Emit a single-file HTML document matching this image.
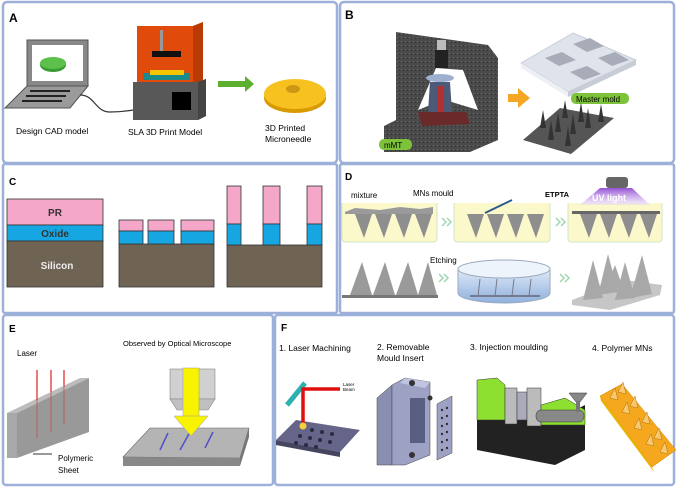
<!DOCTYPE html>
<html><head><meta charset="utf-8"><style>
html,body{margin:0;padding:0;background:#fff;}
svg{display:block;}
text{font-family:"Liberation Sans",sans-serif;}
</style></head><body>
<svg width="678" height="488" viewBox="0 0 678 488" xmlns="http://www.w3.org/2000/svg">
<defs>
<linearGradient id="uv" x1="0" y1="0" x2="0" y2="1"><stop offset="0" stop-color="#8a3fd0" stop-opacity="0.9"/><stop offset="1" stop-color="#e8d8f8" stop-opacity="0.5"/></linearGradient>
<linearGradient id="dish" x1="0" y1="0" x2="0" y2="1"><stop offset="0" stop-color="#dfeaf8"/><stop offset="1" stop-color="#8fb0dc"/></linearGradient>
<pattern id="gran" width="4" height="4" patternUnits="userSpaceOnUse"><rect width="4" height="4" fill="#4a4a4a"/><rect x="1" y="1" width="1" height="1" fill="#6a6a6a"/><rect x="3" y="2" width="1" height="1" fill="#333"/></pattern>
</defs>
<rect width="678" height="488" fill="#fff"/>
<!-- panel borders -->
<g fill="none" stroke="#9db0da" stroke-width="2.5">
<rect x="3" y="2" width="334" height="161" rx="4"/>
<rect x="340" y="2" width="334" height="161" rx="4"/>
<rect x="3" y="164" width="334" height="149" rx="2"/>
<rect x="340" y="164" width="334" height="149" rx="2"/>
<rect x="3" y="315" width="270" height="170" rx="3"/>
<rect x="275" y="315" width="399" height="170" rx="3"/>
</g>

<!-- PANEL A -->
<text x="9" y="22" font-size="12" font-weight="bold">A</text>
<rect x="27" y="40" width="61" height="46" fill="#888" stroke="#555" stroke-width="1"/>
<rect x="32" y="45" width="51" height="36" fill="#fff"/>
<ellipse cx="53" cy="65" rx="13" ry="7" fill="#3a9c33"/><ellipse cx="53" cy="63" rx="13" ry="6" fill="#5cc04a"/>
<polygon points="27,86 88,86 70,108 5,108" fill="#9a9a9a" stroke="#555"/>
<g fill="#222">
<rect x="30" y="90" width="40" height="2"/><rect x="26" y="95" width="40" height="2"/><rect x="22" y="100" width="40" height="2"/>
</g>
<path d="M80,95 C95,95 95,112 110,112 S130,110 135,110" stroke="#333" stroke-width="1.2" fill="none"/>
<polygon points="137,26 193,26 203,22 203,82 137,82" fill="#e04a0a"/>
<polygon points="193,26 203,22 203,82 193,82" fill="#b83a05"/>
<rect x="160" y="30" width="3" height="24" fill="#999"/>
<rect x="152" y="51" width="29" height="6" fill="#111"/>
<rect x="143" y="73" width="47" height="7" fill="#1a8a8a"/>
<rect x="150" y="70" width="34" height="5" fill="#f5c400"/>
<polygon points="133,82 198,82 206,79 206,116 198,120 133,120" fill="#585858"/>
<polygon points="198,82 206,79 206,116 198,120" fill="#444"/>
<rect x="172" y="92" width="19" height="18" fill="#000"/>
<rect x="218" y="81" width="28" height="6" fill="#5cb030"/>
<polygon points="245,76 254,84 245,92" fill="#5cb030"/>
<ellipse cx="295" cy="98" rx="31" ry="15" fill="#d99a00"/>
<ellipse cx="295" cy="94" rx="31" ry="15" fill="#f7c21f"/>
<ellipse cx="293" cy="89" rx="7" ry="4" fill="#b07a10" opacity="0.6"/>
<text x="16" y="134" font-size="8.5">Design CAD model</text>
<text x="128" y="135" font-size="8.5">SLA 3D Print Model</text>
<text x="265" y="131" font-size="8.5">3D Printed</text>
<text x="265" y="142" font-size="8.5">Microneedle</text>

<!-- PANEL B -->
<text x="345" y="19" font-size="12" font-weight="bold">B</text>
<polygon points="396,32 488,45 498,58 498,140 470,152 384,152 384,126 396,120" fill="url(#gran)"/>
<polygon points="436,68 463,70 478,110 445,100 428,106 418,110" fill="#fff"/>
<rect x="437" y="40" width="9" height="10" fill="#bbb"/>
<rect x="435" y="50" width="13" height="18" fill="#222"/>
<ellipse cx="440" cy="78" rx="14" ry="4" fill="#9db0d0"/>
<polygon points="430,82 450,82 452,112 428,112" fill="#4c5a78"/>
<rect x="437" y="86" width="7" height="26" fill="#b23030"/>
<polygon points="418,112 466,112 470,124 422,126" fill="#6a2a2a"/>
<rect x="379" y="139" width="33" height="11" rx="5" fill="#7ec23a"/>
<text x="384" y="148" font-size="8">mMT</text>
<polygon points="508,94 518,94 518,88 530,98 518,108 518,102 508,102" fill="#f5a623"/>
<polygon points="521,63 573,33 636,60 568,92" fill="#dfe3ec" stroke="#c8ccd8"/>
<polygon points="521,63 568,92 568,97 521,68" fill="#eef0f6"/>
<polygon points="568,92 636,60 636,65 568,97" fill="#c8ccd6"/>
<g fill="#a8acb8">
<polygon points="573,44 590,38 604,46 587,52"/><polygon points="545,58 562,52 576,60 559,66"/><polygon points="598,58 615,52 629,60 612,66"/><polygon points="570,72 587,66 601,74 584,80"/>
</g>
<rect x="571" y="93" width="58" height="11" rx="5" fill="#7ec23a"/>
<text x="576" y="102" font-size="8">Master mold</text>
<polygon points="523,140 560,108 614,118 571,154" fill="#555"/>
<g fill="#333">
<polygon points="540,128 543,110 546,128"/><polygon points="555,132 558,112 561,132"/><polygon points="570,134 573,114 576,134"/><polygon points="585,128 588,108 591,128"/><polygon points="598,122 601,104 604,122"/><polygon points="562,118 565,100 568,118"/><polygon points="548,140 551,120 554,140"/><polygon points="578,122 581,102 584,122"/><polygon points="565,146 568,126 571,146"/>
</g>

<!-- PANEL C -->
<text x="9" y="185" font-size="10" font-weight="bold">C</text>
<g stroke="#333" stroke-width="0.8">
<rect x="7" y="199" width="96" height="26" fill="#f4a7c8"/>
<rect x="7" y="225" width="96" height="16" fill="#16a7e3"/>
<rect x="7" y="241" width="96" height="46" fill="#6f6354"/>
<rect x="119" y="244" width="95" height="43" fill="#6f6354"/>
<rect x="119" y="220" width="24" height="11" fill="#f4a7c8"/><rect x="119" y="231" width="24" height="13" fill="#16a7e3"/>
<rect x="148" y="220" width="26" height="11" fill="#f4a7c8"/><rect x="148" y="231" width="26" height="13" fill="#16a7e3"/>
<rect x="181" y="220" width="33" height="11" fill="#f4a7c8"/><rect x="181" y="231" width="33" height="13" fill="#16a7e3"/>
<rect x="227" y="245" width="95" height="42" fill="#6f6354"/>
<rect x="227" y="186" width="14" height="38" fill="#f4a7c8"/><rect x="227" y="224" width="14" height="21" fill="#16a7e3"/>
<rect x="263" y="186" width="17" height="38" fill="#f4a7c8"/><rect x="263" y="224" width="17" height="21" fill="#16a7e3"/>
<rect x="307" y="186" width="15" height="38" fill="#f4a7c8"/><rect x="307" y="224" width="15" height="21" fill="#16a7e3"/>
</g>
<text x="55" y="216" font-size="10" font-weight="bold" text-anchor="middle" fill="#333">PR</text>
<text x="55" y="237" font-size="10" font-weight="bold" text-anchor="middle" fill="#333">Oxide</text>
<text x="57" y="269" font-size="10" font-weight="bold" text-anchor="middle" fill="#eee">Silicon</text>

<!-- PANEL D -->
<text x="345" y="180" font-size="10" font-weight="bold">D</text>
<g stroke="#cfe8c8" stroke-width="1">
<path d="M342,203 V238 Q342,242 346,242 H433 Q437,242 437,238 V203" fill="#fbf8cc"/>
<path d="M454,203 V238 Q454,242 458,242 H546 Q550,242 550,238 V203" fill="#fbf8cc"/>
<path d="M568,203 V238 Q568,242 572,242 H658 Q662,242 662,238 V203" fill="#fbf8cc"/>
</g>
<polygon points="345,212 355,208 380,210 400,207 420,209 433,207 433,214 345,214" fill="#9a9a9a"/>
<g fill="#8e8e8e">
<polygon points="355,214 372,214 364,238"/><polygon points="375,214 392,214 384,238"/><polygon points="395,214 412,214 404,238"/><polygon points="415,214 432,214 424,238"/>
<polygon points="467,214 484,214 476,238"/><polygon points="487,214 504,214 496,238"/><polygon points="507,214 524,214 516,238"/><polygon points="527,214 544,214 536,238"/>
<polygon points="580,214 597,214 589,238"/><polygon points="600,214 617,214 609,238"/><polygon points="620,214 637,214 629,238"/><polygon points="640,214 657,214 649,238"/>
</g>
<line x1="485" y1="213" x2="512" y2="200" stroke="#2b5a8a" stroke-width="2"/>
<rect x="572" y="211" width="88" height="3" fill="#666"/>
<polygon points="580,205 600,188 632,188 650,205" fill="url(#uv)"/>
<rect x="606" y="177" width="22" height="11" rx="3" fill="#666"/>
<text x="592" y="201" font-size="9" font-weight="bold" font-family="Liberation Serif,serif" fill="#fff">UV light</text>
<text x="351" y="198" font-size="8">mixture</text>
<text x="413" y="196" font-size="8">MNs mould</text>
<text x="545" y="197" font-size="7.5" font-weight="bold" font-family="Liberation Serif,serif">ETPTA</text>
<g fill="none" stroke="#9fd8b0" stroke-width="1.5">
<path d="M442,218 l4,4 l-4,4 M447,218 l4,4 l-4,4"/>
<path d="M556,218 l4,4 l-4,4 M561,218 l4,4 l-4,4"/>
<path d="M439,274 l4,4 l-4,4 M444,274 l4,4 l-4,4"/>
<path d="M560,274 l4,4 l-4,4 M565,274 l4,4 l-4,4"/>
</g>
<rect x="342" y="295" width="96" height="3" fill="#777"/>
<g fill="#9a9a9a">
<polygon points="350,295 362,262 372,295"/><polygon points="373,295 385,262 395,295"/><polygon points="396,295 408,262 418,295"/><polygon points="418,295 428,262 437,295"/>
</g>
<text x="430" y="263" font-size="8">Etching</text>
<path d="M458,269 V293 A46,10 0 0 0 550,293 V269" fill="url(#dish)" stroke="#9ab"/>
<ellipse cx="504" cy="269" rx="46" ry="9" fill="#eef4fb" stroke="#9ab"/>
<line x1="470" y1="296" x2="540" y2="296" stroke="#667" stroke-width="1.5"/>
<g stroke="#778" stroke-width="1"><line x1="478" y1="296" x2="480" y2="279"/><line x1="495" y1="296" x2="497" y2="279"/><line x1="512" y1="296" x2="514" y2="279"/><line x1="529" y1="296" x2="531" y2="279"/></g>
<polygon points="572,300 625,280 662,285 660,295 610,310 572,305" fill="#c6c6c6"/>
<g fill="#a8a8a8">
<polygon points="583,300 593,260 603,298"/><polygon points="598,295 608,254 618,292"/><polygon points="615,300 625,262 635,298"/><polygon points="630,298 642,255 652,294"/><polygon points="605,290 615,265 623,288"/>
</g>

<!-- PANEL E -->
<text x="9" y="332" font-size="10" font-weight="bold">E</text>
<text x="17" y="356" font-size="8">Laser</text>
<polygon points="7,413 80,378 89,378 17,413" fill="#bcbcbc"/>
<polygon points="17,413 89,378 89,432 17,458" fill="#999"/>
<rect x="7" y="413" width="10" height="45" fill="#a8a8a8"/>
<g stroke="#e02020" stroke-width="1.2"><line x1="37" y1="370" x2="37" y2="400"/><line x1="51" y1="370" x2="51" y2="392"/><line x1="64" y1="370" x2="64" y2="386"/></g>
<g stroke="#c05050" stroke-width="0.8"><line x1="37" y1="400" x2="37" y2="438"/><line x1="51" y1="392" x2="51" y2="432"/><line x1="64" y1="386" x2="64" y2="424"/></g>
<line x1="33" y1="454" x2="52" y2="454" stroke="#333"/>
<text x="58" y="461" font-size="8">Polymeric</text>
<text x="58" y="473" font-size="8">Sheet</text>
<text x="123" y="346" font-size="7.5">Observed by Optical Microscope</text>
<polygon points="123,457 150,428 249,428 240,458" fill="#b4b4b4" stroke="#666" stroke-width="0.6"/>
<polygon points="123,457 240,458 240,466 123,466" fill="#888"/>
<polygon points="240,458 249,428 249,437 240,466" fill="#777"/>
<g stroke="#5050c8" stroke-width="1.5"><line x1="160" y1="450" x2="168" y2="433"/><line x1="180" y1="450" x2="190" y2="432"/><line x1="205" y1="448" x2="213" y2="432"/></g>
<rect x="170" y="369" width="45" height="30" fill="#d0d0d0" stroke="#888" stroke-width="0.6"/>
<polygon points="170,399 215,399 208,410 177,410" fill="#c0c0c0" stroke="#888" stroke-width="0.6"/>
<rect x="183" y="368" width="16" height="50" fill="#f8f400" stroke="#999" stroke-width="0.5"/>
<polygon points="174,416 208,416 191,436" fill="#f8f400" stroke="#999" stroke-width="0.5"/>

<!-- PANEL F -->
<text x="281" y="331" font-size="10" font-weight="bold">F</text>
<text x="279" y="351" font-size="8.5">1.  Laser Machining</text>
<text x="377" y="350" font-size="8.5">2. Removable</text>
<text x="377" y="361" font-size="8.5">Mould Insert</text>
<text x="470" y="350" font-size="8.5">3. Injection moulding</text>
<text x="592" y="351" font-size="8.5">4. Polymer MNs</text>
<line x1="287" y1="405" x2="305" y2="383" stroke="#2cb0b0" stroke-width="5"/>
<polygon points="276,440 296,420 360,430 340,452" fill="#65658a"/>
<polygon points="276,440 340,452 340,457 276,445" fill="#454560"/>
<g fill="#2a2a40"><circle cx="312" cy="430" r="2"/><circle cx="322" cy="432" r="2"/><circle cx="332" cy="434" r="2"/><circle cx="300" cy="436" r="2"/><circle cx="310" cy="438" r="2"/><circle cx="320" cy="440" r="2"/><circle cx="330" cy="442" r="2"/><circle cx="296" cy="443" r="2"/><circle cx="306" cy="445" r="2"/><circle cx="316" cy="447" r="2"/></g>
<path d="M340,389 H303 V425" stroke="#e01010" stroke-width="3.5" fill="none"/>
<circle cx="303" cy="426" r="3.5" fill="#f7d040"/>
<text x="343" y="386" font-size="4.5">Laser</text>
<text x="343" y="391" font-size="4.5">Beam</text>
<polygon points="377,398 392,385 392,465 377,465" fill="#8a8fb0" stroke="#444" stroke-width="0.5"/>
<polygon points="392,385 405,378 430,382 430,455 405,465 392,465" fill="#9da2c4" stroke="#444" stroke-width="0.5"/>
<polygon points="400,383 405,378 430,382 425,388" fill="#c0c4e0"/>
<rect x="410" y="398" width="15" height="45" fill="#5a5e80"/>
<circle cx="412" cy="383" r="3" fill="#333"/><circle cx="412" cy="455" r="3" fill="#333"/><circle cx="430" cy="398" r="2.5" fill="#333"/>
<polygon points="437,404 452,396 452,453 437,460" fill="#9da2c4" stroke="#444" stroke-width="0.5"/>
<g fill="#333"><circle cx="442" cy="410" r="1.2"/><circle cx="447" cy="408" r="1.2"/><circle cx="442" cy="418" r="1.2"/><circle cx="447" cy="416" r="1.2"/><circle cx="442" cy="426" r="1.2"/><circle cx="447" cy="424" r="1.2"/><circle cx="442" cy="434" r="1.2"/><circle cx="447" cy="432" r="1.2"/><circle cx="442" cy="442" r="1.2"/><circle cx="447" cy="440" r="1.2"/><circle cx="442" cy="450" r="1.2"/><circle cx="447" cy="448" r="1.2"/></g>
<polygon points="477,420 555,420 585,405 585,450 555,465 477,450" fill="#222"/>
<polygon points="477,380 497,378 505,385 505,420 477,420" fill="#8ee030" stroke="#333" stroke-width="0.5"/>
<rect x="505" y="388" width="12" height="36" fill="#bbb" stroke="#333" stroke-width="0.5"/>
<rect x="517" y="392" width="10" height="28" fill="#aab" stroke="#333" stroke-width="0.5"/>
<rect x="527" y="388" width="14" height="38" fill="#bbb" stroke="#333" stroke-width="0.5"/>
<polygon points="541,405 565,398 585,410 585,425 541,425" fill="#8ee030" stroke="#333" stroke-width="0.5"/>
<rect x="536" y="410" width="48" height="12" rx="5" fill="#888" stroke="#333" stroke-width="0.5"/>
<polygon points="569,393 587,393 580,402 576,402" fill="#888" stroke="#333" stroke-width="0.5"/>
<rect x="576" y="402" width="4" height="10" fill="#777"/>
<polygon points="600,396 622,384 676,450 652,467" fill="#f5a81e" stroke="#d08000" stroke-width="0.5"/>
<polygon points="600,396 652,467 654,472 601,401" fill="#e8b800"/>
<g fill="#f7c870" stroke="#a06000" stroke-width="0.4">
<polygon points="610,398 615,388 618,400"/><polygon points="622,412 627,402 630,414"/><polygon points="634,428 639,418 642,430"/><polygon points="646,444 651,434 654,446"/>
<polygon points="618,392 623,382 626,394"/><polygon points="630,406 635,396 638,408"/><polygon points="642,422 647,412 650,424"/><polygon points="654,438 659,428 662,440"/><polygon points="660,452 665,442 668,454"/>
</g>
</svg>
</body></html>
